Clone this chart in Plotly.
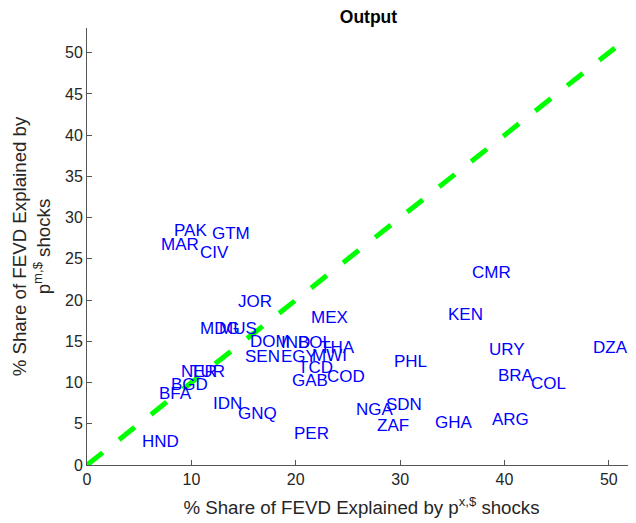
import plotly.graph_objects as go

countries = ["PAK", "GTM", "MAR", "CIV", "CMR", "JOR", "MEX", "KEN", "MDG", "MUS",
             "DOM", "IND", "BOL", "THA", "SEN", "EGY", "MWI", "TCD", "GAB", "COD",
             "PHL", "URY", "DZA", "BRA", "COL", "SDN", "ZAF", "GHA", "ARG", "NGA",
             "PER", "HND", "BFA", "BGD", "NER", "TUR", "IDN", "GNQ"]
share_px = [8.4, 12.1, 7.2, 10.9, 37.0, 14.6, 21.6, 34.7, 10.9, 12.7,
            15.7, 18.7, 20.3, 22.4, 15.2, 18.7, 21.7, 20.3, 19.7, 23.1,
            29.5, 38.6, 48.6, 39.5, 42.6, 28.7, 27.9, 33.4, 38.9, 25.9,
            19.9, 5.4, 7.0, 8.1, 9.1, 10.0, 12.2, 14.6]
share_pm = [28.4, 28.1, 26.7, 25.8, 23.4, 19.8, 17.9, 18.3, 16.6, 16.6,
            15.0, 14.8, 14.8, 14.2, 13.1, 13.1, 13.3, 11.8, 10.2, 10.7,
            12.5, 14.0, 14.3, 10.9, 9.9, 7.3, 4.8, 5.2, 5.5, 6.7,
            3.8, 2.9, 8.7, 9.8, 11.3, 11.3, 7.5, 6.3]
diag_line = [0, 51]
x_ticks = [0, 10, 20, 30, 40, 50]
y_ticks = [0, 5, 10, 15, 20, 25, 30, 35, 40, 45, 50]

FONT = "Liberation Sans, Arial, Helvetica"

fig = go.Figure()
fig.add_trace(go.Scatter(x=diag_line, y=diag_line, mode="lines",
                         line=dict(color="#00ff00", width=5, dash="20px,20.8px"),
                         showlegend=False, hoverinfo="skip"))

for c, xv, yv in zip(countries, share_px, share_pm):
    fig.add_annotation(x=xv, y=yv, text=c, showarrow=False, xanchor="left",
                       yanchor="middle", borderpad=0, xshift=-2,
                       font=dict(family=FONT, size=17, color="#0000ff"))

axis_common = dict(showgrid=False, zeroline=False, showline=True, linecolor="#555555",
                   linewidth=1, ticks="inside", ticklen=5, tickcolor="#555555",
                   automargin=False,
                   tickfont=dict(family=FONT, size=16, color="#262626"),
                   title_font=dict(family=FONT, size=18.7, color="#262626"))

# page body has an 8px default margin, so the figure is sized/offset to compensate
fig.update_layout(
    width=628, height=515,
    margin=dict(l=79, r=0, t=20, b=58),
    paper_bgcolor="white", plot_bgcolor="white",
    title=dict(text="<b>Output</b>", x=0.574, xanchor="center", y=0.995, yanchor="top",
               font=dict(family=FONT, size=17.5, color="black")),
    xaxis=dict(range=[0, 52.6], tickvals=x_ticks,
               title=dict(text="% Share of FEVD Explained by p<sup>x,$</sup> shocks", standoff=13),
               **axis_common),
    yaxis=dict(range=[0, 53], tickvals=y_ticks,
               title=dict(text="% Share of FEVD Explained by<br>p<sup>m,$</sup> shocks", standoff=9),
               **axis_common),
    showlegend=False,
)

fig.write_html("out.html")
